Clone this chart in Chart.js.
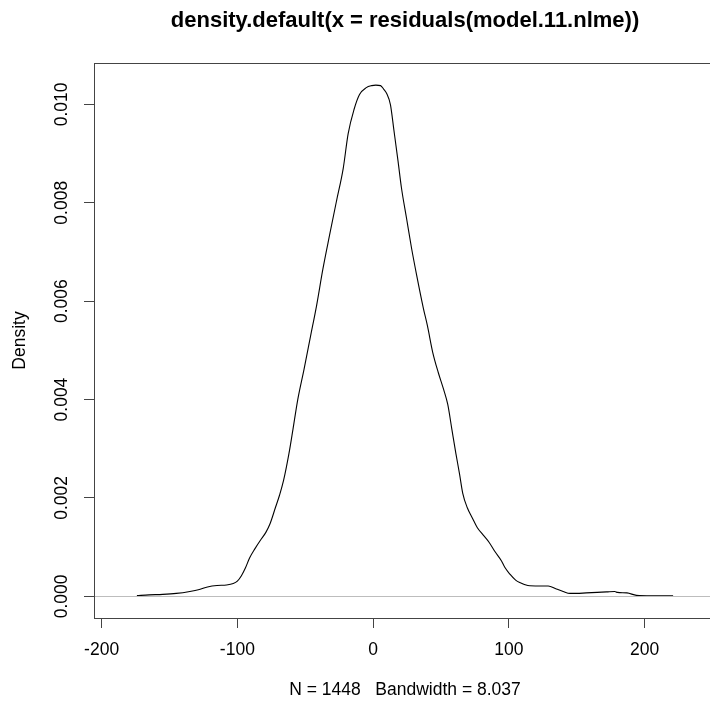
<!DOCTYPE html>
<html>
<head>
<meta charset="utf-8">
<script src="https://cdn.jsdelivr.net/npm/chart.js@4.4.1/dist/chart.umd.min.js"></script>
<style>
  html, body { margin: 0; padding: 0; background: #fff; overflow: hidden; }
  #wrap { width: 716px; height: 706px; position: relative; }
</style>
</head>
<body>
<div id="wrap"><canvas id="densityChart"></canvas></div>
<script>
// residual values (x) and their estimated density (y)
const residualX = [-174, -165, -155, -145, -135, -128, -122, -115, -108, -103, -100, -97, -94, -91, -87, -83, -79, -76, -72, -69, -66, -62, -59, -55.5, -51, -46, -41.7, -37, -32, -27, -22, -18.4, -14, -10, -5, -1, 2, 5.5, 8, 10, 12.8, 15.3, 18.4, 20.9, 24.6, 28.3, 32, 37, 40, 44, 48, 52, 55, 58, 61, 63.6, 66, 69.4, 73, 76.7, 81, 85.4, 90, 94.6, 97, 100.8, 105, 108, 114, 122, 129, 135, 140, 145, 150, 157, 165, 172, 178, 180, 187, 194, 205, 221];
const densityY = [0.000015, 0.00003, 0.00004, 0.00006, 0.0001, 0.00014, 0.00019, 0.00022, 0.00023, 0.00026, 0.00031, 0.00042, 0.00058, 0.00078, 0.00097, 0.00114, 0.0013, 0.00147, 0.0018, 0.00205, 0.00235, 0.0029, 0.0034, 0.004, 0.0046, 0.0053, 0.0059, 0.00665, 0.00735, 0.00803, 0.0087, 0.0094, 0.0099, 0.0102, 0.01034, 0.01038, 0.01039, 0.01038, 0.0103, 0.01022, 0.00999, 0.00948, 0.00884, 0.0083, 0.00769, 0.00708, 0.00654, 0.00586, 0.0055, 0.00495, 0.00455, 0.0042, 0.0039, 0.0034, 0.0029, 0.0025, 0.0021, 0.0018, 0.0016, 0.0014, 0.00125, 0.0011, 0.0009, 0.00072, 0.00059, 0.00045, 0.00033, 0.00028, 0.00022, 0.00021, 0.00021, 0.00015, 0.0001, 0.00006, 0.00006, 0.00007, 0.00008, 0.00009, 0.0001, 0.00008, 0.00007, 0.00002, 0.00001, 0.00001];

const xTicks = [-200, -100, 0, 100, 200];
const yTicks = [0, 0.002, 0.004, 0.006, 0.008, 0.010];
const yTickLabels = ['0.000', '0.002', '0.004', '0.006', '0.008', '0.010'];

const mainTitle = 'density.default(x = residuals(model.11.nlme))';
const subTitle = 'N = 1448   Bandwidth = 8.037';
const yTitle = 'Density';

const FONT = '"Liberation Sans", Arial, Helvetica, sans-serif';

// textos, caja y línea cero al estilo de R
const rStylePlugin = {
    id: 'rStyle',
    afterDatasetsDraw(chart) {
        const ctx = chart.ctx;
        const area = chart.chartArea;
        const xs = chart.scales.x;
        const ys = chart.scales.y;

        // linea gris en y = 0
        const y0 = Math.round(ys.getPixelForValue(0)) + 0.5;
        ctx.save();
        ctx.strokeStyle = '#bdbdbd';
        ctx.lineWidth = 1;
        ctx.beginPath();
        ctx.moveTo(area.left, y0);
        ctx.lineTo(area.right, y0);
        ctx.stroke();

        // caja
        ctx.strokeStyle = '#444';
        ctx.strokeRect(Math.round(area.left) + 0.5, Math.round(area.top) + 0.5,
            Math.round(area.right - area.left), Math.round(area.bottom - area.top));

        ctx.fillStyle = '#000';
        ctx.font = '17.5px ' + FONT;
        ctx.textAlign = 'center';
        ctx.textBaseline = 'middle';

        xTicks.forEach(v => {
            ctx.fillText(String(v), xs.getPixelForValue(v), 650);
        });

        yTicks.forEach((v, i) => {
            ctx.save();
            ctx.translate(62, ys.getPixelForValue(v));
            ctx.rotate(-Math.PI / 2);
            ctx.fillText(yTickLabels[i], 0, 0);
            ctx.restore();
        });

        const cx = (area.left + area.right) / 2;
        ctx.fillText(subTitle, cx, 690);

        ctx.save();
        ctx.translate(20, (area.top + area.bottom) / 2);
        ctx.rotate(-Math.PI / 2);
        ctx.fillText(yTitle, 0, 0);
        ctx.restore();

        ctx.font = 'bold 22px ' + FONT;
        ctx.fillText(mainTitle, cx, 21);
        ctx.restore();
    }
};

const ctx = document.getElementById('densityChart').getContext('2d');
const densityChart = new Chart(ctx, {
    type: 'line',
    data: {
        datasets: [{
            data: residualX.map((x, i) => ({ x: x, y: densityY[i] })),
            borderColor: '#000',
            borderWidth: 1.1,
            pointRadius: 0,
            cubicInterpolationMode: 'monotone',
            fill: false
        }]
    },
    options: {
        responsive: true,
        maintainAspectRatio: false,
        animation: false,
        devicePixelRatio: 1,
        layout: { padding: { top: 63, right: 0, left: 0, bottom: 0 } },
        plugins: {
            legend: { display: false },
            title: { display: false },
            tooltip: { enabled: false }
        },
        scales: {
            x: {
                type: 'linear',
                min: -205.6,
                max: 252.6,
                afterBuildTicks: scale => { scale.ticks = xTicks.map(v => ({ value: v })); },
                afterFit: scale => { scale.height = 88; },
                ticks: { display: false },
                border: { display: false },
                grid: { drawOnChartArea: false, drawTicks: true, tickLength: 10, color: '#444', lineWidth: 1 }
            },
            y: {
                type: 'linear',
                min: -0.00044,
                max: 0.01084,
                afterBuildTicks: scale => { scale.ticks = yTicks.map(v => ({ value: v })); },
                afterFit: scale => { scale.width = 94; },
                ticks: { display: false },
                border: { display: false },
                grid: { drawOnChartArea: false, drawTicks: true, tickLength: 10, color: '#444', lineWidth: 1 }
            }
        }
    },
    plugins: [rStylePlugin]
});
</script>
</body>
</html>
